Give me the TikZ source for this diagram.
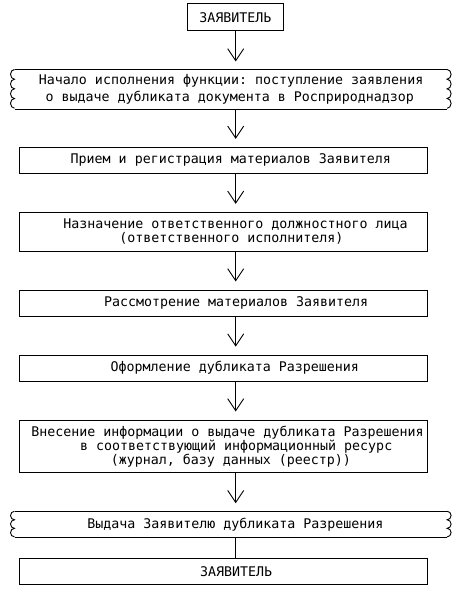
\documentclass[tikz,border=0pt]{standalone}
\usepackage{fontspec}
\newfontfamily\boxfont{DejaVu Sans Mono}
\usetikzlibrary{arrows.meta}
\newcommand{\indt}[1]{\hspace*{#1pt}}
\frenchspacing

\begin{document}
\begin{tikzpicture}[x=1pt, y=-1pt, line width=0.9pt,
    font={\boxfont\fontsize{13.3pt}{14pt}\selectfont},
    execute at begin node={\spaceskip=0pt\xspaceskip=0pt},
    stepbox/.style={draw, rectangle, inner sep=0pt, text width=408.4pt, align=left},
    bracketbox/.style={rectangle, inner sep=0pt, text width=431.7pt, align=left},
    flow/.style={-{Straight Barb[length=12pt, width=16pt]}, shorten >=8pt}]
\useasboundingbox (0,0) rectangle (465,599);
\fill[white] (0,0) rectangle (465,599);

% Applicant
\node[draw, inner sep=0pt, minimum width=95.3pt, minimum height=26.7pt] (zv1) at (235.3,17.3) {ЗАЯВИТЕЛЬ};

% Steps
\node[bracketbox, minimum height=38.7pt, font={\boxfont\fontsize{13.3pt}{16.5pt}\selectfont}] (b1) at (230.8,89.3) {\indt{24}Начало исполнения функции: поступление заявления\\\indt{30.7}о выдаче дубликата документа в Росприроднадзор};
\node[stepbox, minimum height=26pt] (s2) at (223.5,160.3) {\indt{51.4}Прием и регистрация материалов Заявителя};
\node[stepbox, minimum height=38.7pt] (s3) at (223.5,231.7) {\indt{44}Назначение ответственного должностного лица\\\indt{100}(ответственного исполнителя)};
\node[stepbox, minimum height=26pt] (s4) at (223.5,303) {\indt{84.7}Рассмотрение материалов Заявителя};
\node[stepbox, minimum height=26.3pt] (s5) at (223.5,368.2) {\indt{91.4}Оформление дубликата Разрешения};
\node[stepbox, minimum height=52.7pt] (s6) at (223.5,446.3) {\indt{12}Внесение информации о выдаче дубликата Разрешения\\\indt{60.7}в соответствующий информационный ресурс\\\indt{91.5}(журнал, базу данных (реестр))};
\node[bracketbox, minimum height=25.6pt] (b7) at (230.8,524.5) {\indt{72.3}Выдача Заявителю дубликата Разрешения};
\node[stepbox, minimum height=26pt] (zv2) at (223.5,571.3) {\indt{180.7}ЗАЯВИТЕЛЬ};

% Bracket sides
\foreach \b/\n/\r in {b1/4/4.84, b7/3/4.27} {
  \draw (\b.north west) -- (\b.north east) (\b.south west) -- (\b.south east);
  \draw (\b.north west) \foreach \i in {1,...,\n} {arc[start angle=90, end angle=270, x radius=4pt, y radius=\r pt]};
  \draw (\b.north east) \foreach \i in {1,...,\n} {arc[start angle=90, end angle=-90, x radius=4pt, y radius=\r pt]};
}

% Connections
\coordinate (axis) at (235.7,0);
\foreach \a/\c in {zv1/b1, b1/s2, s2/s3, s3/s4, s4/s5, s5/s6, s6/b7}
  \draw[flow] (\a.south -| axis) -- (\c.north -| axis);
\draw (b7.south -| axis) -- (zv2.north -| axis);
\end{tikzpicture}
\end{document}
